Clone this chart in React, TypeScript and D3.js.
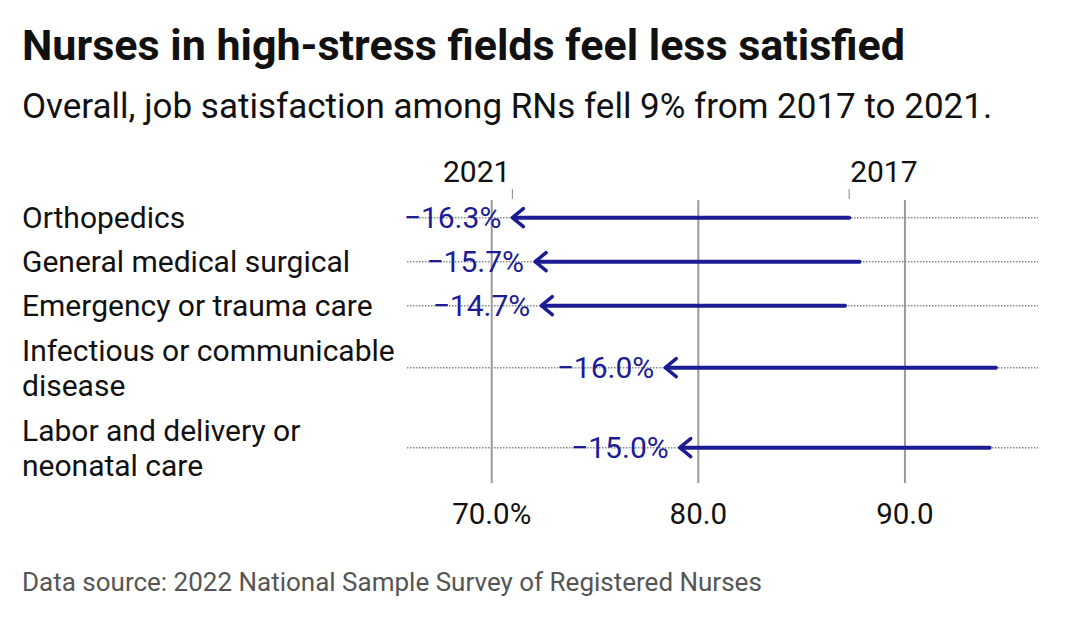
import * as d3 from "d3";

// Job satisfaction (%) by field, 2017 vs 2021
const fields = [
  ["Orthopedics"],
  ["General medical surgical"],
  ["Emergency or trauma care"],
  ["Infectious or communicable", "disease"],
  ["Labor and delivery or", "neonatal care"],
];
const values2017 = [87.3, 87.8, 87.1, 94.4, 94.1];
const values2021 = [71.0, 72.1, 72.4, 78.4, 79.1];
const changeLabels = ["−16.3%", "−15.7%", "−14.7%", "−16.0%", "−15.0%"];
const tickValues = [70, 80, 90];
const tickLabels = ["70.0%", "80.0", "90.0"];

const W = 1080;
const H = 618;
const NAVY = "#1c1c95";
const FONT = "Roboto, 'Noto Sans', sans-serif";

export default function App() {
  const x = d3.scaleLinear().domain([65.9, 96.44]).range([407, 1038]);

  // rows have variable height depending on how many lines the label needs
  const lineH = 35;
  const bandTop = 195.7;
  const heights = fields.map((f) => f.length * lineH + 8 + f.length);
  const tops = d3.cumsum([0, ...heights]).map((v) => v + bandTop);
  const rowY = fields.map((_, i) => tops[i] + heights[i] / 2);
  const plotTop = 200;
  const plotBottom = 483;

  return (
    <svg
      width={W}
      height={H}
      viewBox={`0 0 ${W} ${H}`}
      style={{ position: "absolute", left: 0, top: 0, background: "#fff", fontFamily: FONT }}
    >
      <rect width={W} height={H} fill="#fff" />
      <text x={22} y={60} fontSize={43} fontWeight={700} fill="#111">
        Nurses in high-stress fields feel less satisfied
      </text>
      <text x={22} y={118} fontSize={35} fill="#111">
        Overall, job satisfaction among RNs fell 9% from 2017 to 2021.
      </text>

      {/* year headers, anchored on the first row */}
      <line x1={x(values2021[0])} x2={x(values2021[0])} y1={189} y2={199} stroke="#888" strokeWidth={1} />
      <line x1={x(values2017[0])} x2={x(values2017[0])} y1={189} y2={199} stroke="#888" strokeWidth={1} />
      <text x={x(values2021[0]) - 2} y={182} fontSize={30} textAnchor="end" fill="#111">
        2021
      </text>
      <text x={x(values2017[0]) + 1} y={182} fontSize={30} fill="#111">
        2017
      </text>

      {/* grid */}
      {tickValues.map((t, i) => (
        <g key={t}>
          <line x1={x(t)} x2={x(t)} y1={plotTop} y2={plotBottom} stroke="#9a9a9a" strokeWidth={2} />
          <text x={x(t)} y={524} fontSize={29.5} textAnchor="middle" fill="#111">
            {tickLabels[i]}
          </text>
        </g>
      ))}

      {fields.map((f, i) => {
        const y = rowY[i];
        const tip = x(values2021[i]);
        const start = x(values2017[i]);
        return (
          <g key={f.join(" ")}>
            {f.map((line, j) => (
              <text
                key={j}
                x={22}
                y={y + 10.6 + (j - (f.length - 1) / 2) * lineH}
                fontSize={30}
                fill="#111"
              >
                {line}
              </text>
            ))}
            <line
              x1={x.range()[0]}
              x2={x.range()[1]}
              y1={y}
              y2={y}
              stroke="#8a8a8a"
              strokeWidth={1.5}
              strokeDasharray="1.5,1.5"
            />
            <line x1={start} x2={tip + 1} y1={y} y2={y} stroke={NAVY} strokeWidth={4} strokeLinecap="round" />
            <path
              d={`M${tip + 11},${y - 9}L${tip},${y}L${tip + 11},${y + 9}`}
              fill="none"
              stroke={NAVY}
              strokeWidth={3.5}
              strokeLinecap="round"
              strokeLinejoin="round"
            />
            <text x={tip - 11} y={y + 10.5} fontSize={30} textAnchor="end" fill={NAVY}>
              {changeLabels[i]}
            </text>
          </g>
        );
      })}

      <text x={22} y={591} fontSize={26} fill="#555">
        Data source: 2022 National Sample Survey of Registered Nurses
      </text>
    </svg>
  );
}
